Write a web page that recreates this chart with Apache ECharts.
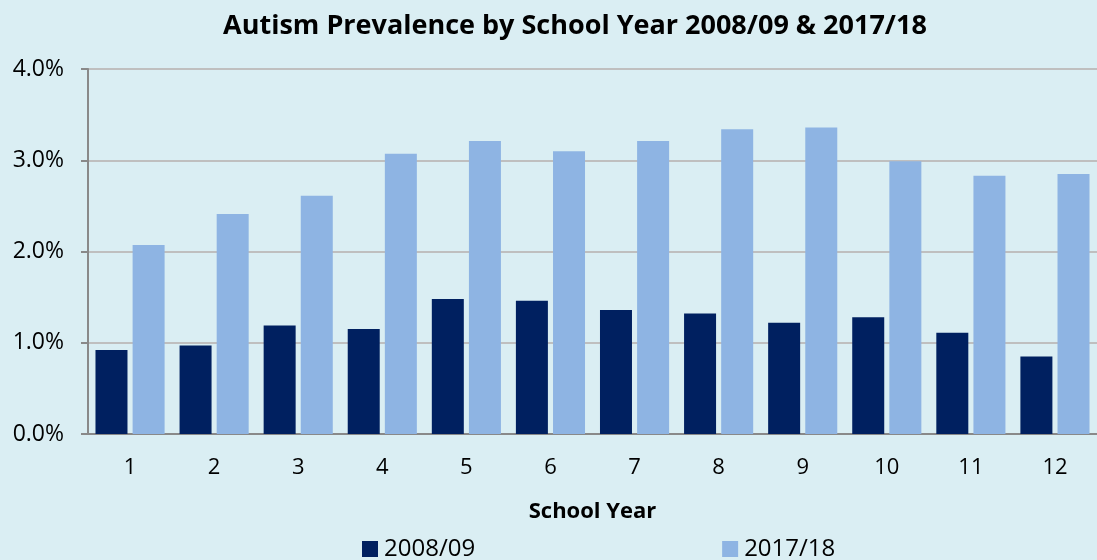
<!DOCTYPE html>
<html><head><meta charset="utf-8">
<script src="https://cdn.jsdelivr.net/npm/echarts@6/dist/echarts.min.js"></script>
<style>html,body{margin:0;padding:0;background:#DAEEF3;}#c{width:1097px;height:560px;}</style>
</head><body><div id="c"></div>
<script>
const categories = ['1','2','3','4','5','6','7','8','9','10','11','12'];
const s2008 = [0.92,0.97,1.19,1.15,1.48,1.46,1.36,1.32,1.22,1.28,1.11,0.85];
const s2017 = [2.07,2.41,2.61,3.07,3.21,3.10,3.21,3.34,3.36,2.99,2.83,2.85];
const yTicks = [0,1,2,3,4];
const FONT = '"Open Sans", sans-serif';
const chart = echarts.init(document.getElementById('c'));
chart.setOption({
  backgroundColor: '#DAEEF3',
  animation: false,
  title: { text: 'Autism Prevalence by School Year 2008/09 & 2017/18', left: 570, top: 8, textAlign: 'center',
    textStyle: { fontFamily: FONT, fontSize: 27, fontWeight: 'bold', color: '#000' } },
  legend: { left: 357, top: 532, itemGap: 247, itemWidth: 16, itemHeight: 16, icon: 'rect',
    textStyle: { fontFamily: FONT, fontSize: 24, color: '#000', padding: [0,0,0,1] } },
  grid: { left: 88, right: 0, top: 69, bottom: 126 },
  xAxis: { type: 'category', data: categories, name: 'School Year', nameLocation: 'middle', nameGap: 67,
    nameTextStyle: { fontFamily: FONT, fontSize: 22, fontWeight: 'bold', color: '#000' },
    axisLine: { lineStyle: { color: '#898989', width: 2 } }, axisTick: { show: false },
    axisLabel: { fontFamily: FONT, fontSize: 22, color: '#000', margin: 23 } },
  yAxis: { type: 'value', min: 0, max: 4, interval: 1,
    axisLine: { show: true, lineStyle: { color: '#898989', width: 2 } },
    axisTick: { show: true, length: 7, lineStyle: { color: '#898989', width: 2 } },
    splitLine: { lineStyle: { color: '#BFBFBF', width: 2 } },
    axisLabel: { fontFamily: FONT, fontSize: 23, color: '#000', margin: 24,
      formatter: v => yTicks.includes(v) ? v.toFixed(1) + '%' : '' } },
  series: [
    { name: '2008/09', type: 'bar', data: s2008, barWidth: 32, barGap: '16%', itemStyle: { color: '#002060' } },
    { name: '2017/18', type: 'bar', data: s2017, barWidth: 32, itemStyle: { color: '#8EB4E3' } }
  ]
});
</script></body></html>
